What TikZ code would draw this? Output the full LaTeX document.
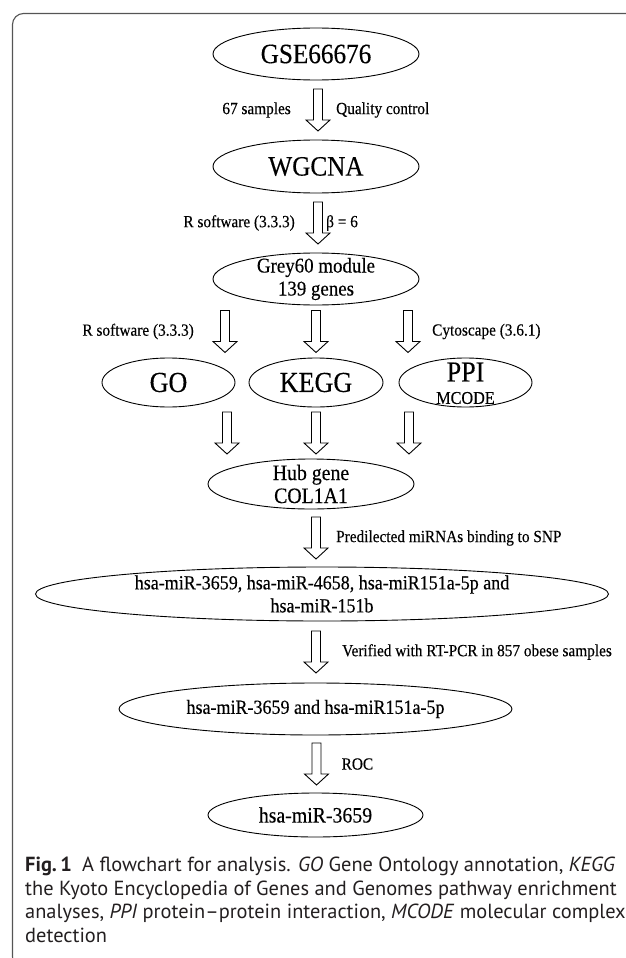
\documentclass[tikz,border=0pt]{standalone}
\usepackage{fontspec}
\setmainfont{Liberation Serif}[FakeStretch=0.9,FakeBold=0.3]
\newfontfamily\capfont{PT Sans}[Ligatures=TeX]
\usetikzlibrary{shapes.geometric,positioning,calc}
\definecolor{framegray}{RGB}{85,85,85}
\definecolor{captext}{RGB}{35,31,32}
\newcommand{\fsz}[1]{\fontsize{#1}{23}\selectfont}
\tikzset{
  stage/.style={draw,ellipse,inner sep=0pt,align=center,line width=0.9pt},
  twoline/.style={inner ysep=-5pt},
  fatline/.style={draw,line width=0.9pt,fill=white,line join=miter},
  steplabel/.style={inner sep=0pt,font=\fsz{17}},
  captionline/.style={anchor=base west,inner sep=0pt,text=captext,
    font=\capfont\fontsize{20.4}{23}\selectfont},
}
\newcommand{\fatarrow}[4][0]{%
  \coordinate (#4) at ($(#2.south)!0.5!(#2.south|-#3.north)+(#1,0)$);
  \draw[fatline] ($(#4)+(-4.5,-21)$) -- ($(#4)+(-4.5,10)$) -- ($(#4)+(-12,10)$)
    -- ($(#4)+(0,21)$) -- ($(#4)+(12,10)$) -- ($(#4)+(4.5,10)$)
    -- ($(#4)+(4.5,-21)$) -- cycle;}

\begin{document}
\begin{tikzpicture}[x=1pt,y=-1pt]
\useasboundingbox (0,0) rectangle (625,958);
\draw[framegray,line width=1.1pt,rounded corners=11pt]
  (640,13.5) -- (12.5,13.5) -- (12.5,968) -- (40,968);

\node[stage,minimum width=206,minimum height=52,font=\fsz{28}]
  (gse) at (316,54) {GSE66676};
\node[stage,minimum width=206,minimum height=53,font=\fsz{28}]
  (wgcna) at (316,166.5) {WGCNA};
\node[stage,twoline,minimum width=206,minimum height=52,font=\fsz{21}]
  (grey) at (316,279) {Grey60 module\\139 genes};
\node[stage,minimum width=133,minimum height=49,font=\fsz{29}]
  (go) at (168.5,382.5) {GO};
\node[stage,minimum width=134,minimum height=49,font=\fsz{29}]
  (kegg) at (316,382.5) {KEGG};
\node[stage,minimum width=133,minimum height=49] (ppi) at (465.5,382.5) {};
\node[inner sep=0pt,font=\fsz{29}] (ppitxt) at (465.5,372) {PPI};
\node[inner sep=0pt,font=\fsz{18}] (mcode) at (465.5,398) {MCODE};
\node[stage,twoline,minimum width=206,minimum height=50,font=\fsz{22}]
  (hub) at (311,484) {Hub gene\\COL1A1};
\node[stage,twoline,minimum width=573,minimum height=54,font=\fsz{20}]
  (mirs) at (322,594)
  {hsa-miR-3659, hsa-miR-4658, hsa-miR151a-5p and\\hsa-miR-151b};
\node[stage,minimum width=393,minimum height=52,font=\fsz{20}]
  (pair) at (315.5,709) {hsa-miR-3659 and hsa-miR151a-5p};
\node[stage,minimum width=215,minimum height=44,font=\fsz{22}]
  (final) at (315.5,815) {hsa-miR-3659};

\fatarrow[2]{gse}{wgcna}{a1}
\node[steplabel,left=27pt of a1] (a1l) {67 samples};
\node[steplabel,right=18pt of a1] (a1r) {Quality control};
\fatarrow[2]{wgcna}{grey}{a2}
\node[steplabel,left=23pt of a2] (a2l) {R software (3.3.3)};
\node[steplabel,right=8pt of a2] (a2r) {β = 6};
\fatarrow[-91]{grey}{go}{b1}
\fatarrow{grey}{kegg}{b2}
\fatarrow[92]{grey}{ppi}{b3}
\node[steplabel,left=31pt of b1] (b1l) {R software (3.3.3)};
\node[steplabel,right=24pt of b3] (b3r) {Cytoscape (3.6.1)};
\fatarrow[58.5]{go}{hub}{c1}
\fatarrow{kegg}{hub}{c2}
\fatarrow[-56.5]{ppi}{hub}{c3}
\fatarrow[5]{hub}{mirs}{d1}
\node[steplabel,right=20pt of d1] (d1r) {Predilected miRNAs binding to SNP};
\fatarrow[-6]{mirs}{pair}{e1}
\node[steplabel,right=26pt of e1] (e1r) {Verified with RT-PCR in 857 obese samples};
\fatarrow[1]{pair}{final}{f1}
\node[steplabel,right=25pt of f1] (f1r) {ROC};

\node[captionline] (cap1) at (25,871.5)
  {\textbf{Fig.\,1}\enskip A flowchart for analysis. \textit{GO} Gene Ontology annotation, \textit{KEGG}};
\node[captionline] (cap2) at (25,895)
  {the Kyoto Encyclopedia of Genes and Genomes pathway enrichment};
\node[captionline] (cap3) at (25,918.8)
  {analyses, \textit{PPI} protein–protein interaction, \textit{MCODE} molecular complex};
\node[captionline] (cap4) at (25,942.5) {detection};
\end{tikzpicture}
\end{document}
